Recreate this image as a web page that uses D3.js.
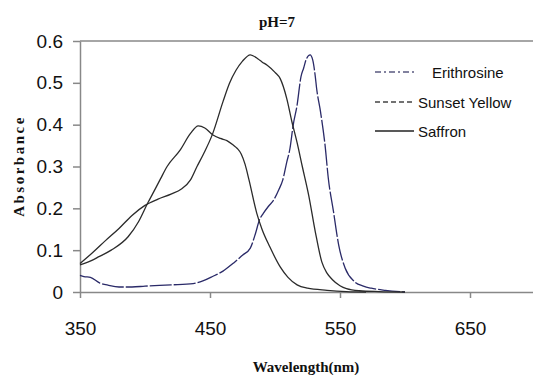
<!DOCTYPE html>
<html>
<head>
<meta charset="utf-8">
<script src="https://cdn.jsdelivr.net/npm/d3@7"></script>
<style>
  html, body { margin: 0; padding: 0; background: #fff; }
  svg { display: block; }
</style>
</head>
<body>
<svg id="chart" width="533" height="375"></svg>
<script>
// ---- Data ----
const title = "pH=7";
const xLabel = "Wavelength(nm)";
const yLabel = "Absorbance";
const xTicks = [350, 450, 550, 650];
const yTicks = [0, 0.1, 0.2, 0.3, 0.4, 0.5, 0.6];
const seriesNames = ["Erithrosine", "Sunset Yellow", "Saffron"];

const erithrosineWl = [350, 353, 358, 365, 372, 380, 390, 400, 420, 437, 445, 452, 460, 468, 475, 481, 485, 488, 491, 495, 499, 503, 506, 509, 511.5, 514, 517, 520, 522, 524, 527, 529, 531, 532, 535, 538.5, 541, 545, 549, 554, 561, 568, 574, 585, 600];
const erithrosineAbs = [0.040, 0.037, 0.035, 0.022, 0.016, 0.012, 0.012, 0.014, 0.017, 0.020, 0.027, 0.037, 0.050, 0.069, 0.088, 0.105, 0.140, 0.172, 0.188, 0.205, 0.220, 0.245, 0.268, 0.310, 0.343, 0.399, 0.447, 0.515, 0.535, 0.556, 0.567, 0.555, 0.515, 0.487, 0.431, 0.351, 0.272, 0.192, 0.112, 0.057, 0.025, 0.014, 0.009, 0.004, 0.000];

const sunsetWl = [350, 360, 370, 380, 390, 400, 410, 420, 428, 435, 440, 445, 452, 460, 465, 470, 475, 481, 487, 490, 494, 500, 504, 509, 513, 517, 521, 526, 531, 536, 540, 544, 550, 555, 565, 580, 600];
const sunsetAbs = [0.068, 0.095, 0.124, 0.152, 0.183, 0.207, 0.222, 0.234, 0.246, 0.268, 0.300, 0.330, 0.378, 0.455, 0.499, 0.530, 0.552, 0.567, 0.557, 0.550, 0.542, 0.525, 0.510, 0.463, 0.407, 0.357, 0.300, 0.230, 0.144, 0.072, 0.045, 0.030, 0.015, 0.008, 0.003, 0.001, 0.000];

const saffronWl = [350, 355, 365, 374, 387, 395, 402, 408, 412, 417, 427, 435, 441, 446, 452, 458, 463, 468, 471, 474, 477, 480, 486, 490, 496, 504, 510, 517, 525, 540, 555, 570];
const saffronAbs = [0.065, 0.070, 0.085, 0.100, 0.132, 0.168, 0.212, 0.247, 0.271, 0.300, 0.339, 0.379, 0.397, 0.392, 0.376, 0.367, 0.362, 0.351, 0.343, 0.330, 0.305, 0.268, 0.188, 0.150, 0.108, 0.060, 0.035, 0.017, 0.009, 0.004, 0.001, 0.000];

// ---- Layout ----
const svg = d3.select("#chart");
const x = d3.scaleLinear().domain([350, 700]).range([80, 535]);
const y = d3.scaleLinear().domain([0, 0.6]).range([292, 41]);
const axisColor = "#888";

// top frame line
svg.append("line")
  .attr("x1", x(350)).attr("x2", x(700))
  .attr("y1", y(0.6)).attr("y2", y(0.6))
  .attr("stroke", axisColor).attr("stroke-width", 1.5);

// Y axis
const yAxis = svg.append("g")
  .attr("transform", `translate(${x(350)},0)`)
  .call(d3.axisLeft(y).tickValues(yTicks).tickSize(7).tickSizeOuter(0).tickPadding(10)
    .tickFormat(d => d === 0 ? "0" : d3.format(".1f")(d)));
yAxis.selectAll("path, line").attr("stroke", axisColor).attr("stroke-width", 1.5);
yAxis.selectAll("text").attr("font-family", "Liberation Sans, Arial, sans-serif")
  .attr("font-size", 19).attr("fill", "#111");

// X axis
const xAxis = svg.append("g")
  .attr("transform", `translate(0,${y(0)})`)
  .call(d3.axisBottom(x).tickValues(xTicks).tickSize(6).tickSizeOuter(0).tickPadding(24)
    .tickFormat(d3.format("d")));
xAxis.selectAll("path, line").attr("stroke", axisColor).attr("stroke-width", 1.5);
xAxis.selectAll("text").attr("font-family", "Liberation Sans, Arial, sans-serif")
  .attr("font-size", 19).attr("fill", "#111");

// ---- Lines ----
const line = d3.line().curve(d3.curveMonotoneX);
function pts(wl, ab) { return wl.map((w, i) => [x(w), y(ab[i])]); }

const styles = [
  { color: "#2a2a68", dash: "22,2", legendDash: "6,3,2,3", legendColor: "#5a5a80" },
  { color: "#2b2b2b", dash: null, legendDash: "5,3", legendColor: "#444" },
  { color: "#2b2b2b", dash: null, legendDash: null, legendColor: "#222" }
];
const data = [
  pts(erithrosineWl, erithrosineAbs),
  pts(sunsetWl, sunsetAbs),
  pts(saffronWl, saffronAbs)
];

data.forEach((d, i) => {
  svg.append("path")
    .attr("d", line(d))
    .attr("fill", "none")
    .attr("stroke", styles[i].color)
    .attr("stroke-width", 1.3)
    .attr("stroke-dasharray", styles[i].dash);
});

// ---- Legend ----
const legendY = [72, 102, 131];
const legendTextX = [432, 418, 418];
seriesNames.forEach((name, i) => {
  svg.append("line")
    .attr("x1", 375).attr("x2", 414)
    .attr("y1", legendY[i]).attr("y2", legendY[i])
    .attr("stroke", styles[i].legendColor)
    .attr("stroke-width", 1.4)
    .attr("stroke-dasharray", styles[i].legendDash);
  svg.append("text")
    .attr("x", legendTextX[i]).attr("y", legendY[i] + 5.5)
    .attr("font-family", "Liberation Sans, Arial, sans-serif")
    .attr("font-size", 15).attr("fill", "#111")
    .text(name);
});

// ---- Titles ----
svg.append("text")
  .attr("x", 277).attr("y", 27)
  .attr("text-anchor", "middle")
  .attr("font-family", "Liberation Serif, Times New Roman, serif")
  .attr("font-weight", "bold").attr("font-size", 15).attr("fill", "#111")
  .text(title);

svg.append("text")
  .attr("x", 306).attr("y", 372)
  .attr("text-anchor", "middle")
  .attr("font-family", "Liberation Serif, Times New Roman, serif")
  .attr("font-weight", "bold").attr("font-size", 15).attr("fill", "#111")
  .text(xLabel);

svg.append("text")
  .attr("transform", "translate(24,166) rotate(-90)")
  .attr("text-anchor", "middle")
  .attr("font-family", "Liberation Serif, Times New Roman, serif")
  .attr("font-weight", "bold").attr("font-size", 15).attr("fill", "#111")
  .attr("letter-spacing", 2.5)
  .text(yLabel);
</script>
</body>
</html>
